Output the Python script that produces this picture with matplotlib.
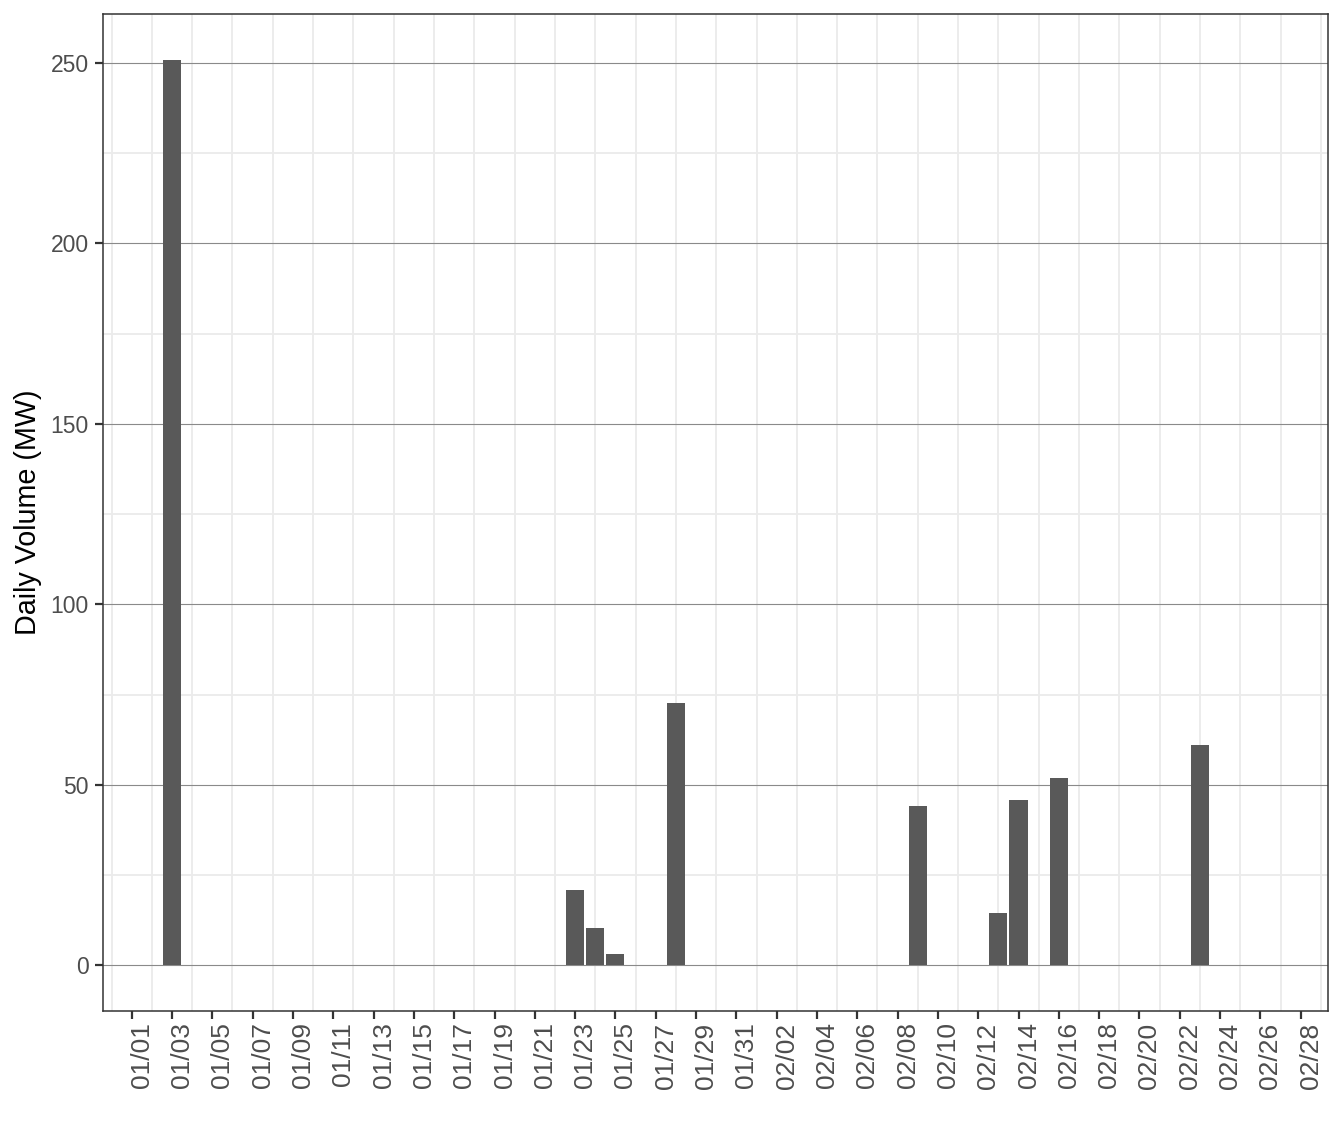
# Daily volume bar chart (Jan - Feb)
import numpy as np
import pandas as pd
import matplotlib
matplotlib.use('Agg')
import matplotlib.pyplot as plt
import matplotlib.dates as mdates
from matplotlib.transforms import ScaledTranslation

plt.rcParams['font.family'] = ['Liberation Sans', 'DejaVu Sans']

# Data (only days with a non-zero volume)
bar_dates = ['2021-01-03', '2021-01-23', '2021-01-24', '2021-01-25', '2021-01-28',
             '2021-02-09', '2021-02-13', '2021-02-14', '2021-02-16', '2021-02-23']
volumes = [250.9, 20.9, 10.4, 3.1, 72.6, 44.2, 14.5, 45.9, 51.8, 60.9]

tick_dates = pd.date_range('2021-01-01', '2021-02-28', freq='2D')
minor_dates = pd.date_range('2020-12-31', '2021-03-01', freq='2D')
y_major = [0, 50, 100, 150, 200, 250]
y_minor = [25, 75, 125, 175, 225]

W, H = 1344, 1142
fig = plt.figure(figsize=(W / 100, H / 100), dpi=100)
left, right, top, bottom = 103.3, 1328.3, 14.2, 1010.6
ax = fig.add_axes([left / W, 1 - bottom / H, (right - left) / W, (bottom - top) / H])

x = mdates.date2num(pd.to_datetime(bar_dates))
ax.bar(x, volumes, width=0.9, color='#595959', zorder=3)

# axes ranges
x0 = mdates.date2num(pd.Timestamp('2021-01-01'))
ax.set_xlim(x0 - 1.41, x0 + 59.37)
ax.set_ylim(-12.55, 263.5)

# ticks
ax.xaxis.set_major_locator(plt.FixedLocator(mdates.date2num(tick_dates)))
ax.xaxis.set_major_formatter(mdates.DateFormatter('%m/%d'))
ax.xaxis.set_minor_locator(plt.FixedLocator(mdates.date2num(minor_dates)))
ax.yaxis.set_major_locator(plt.FixedLocator(y_major))
ax.yaxis.set_minor_locator(plt.FixedLocator(y_minor))
ax.set_yticklabels([str(v) for v in y_major])

ax.tick_params(which='major', axis='both', color='#333333', width=1.6,
               length=5.5, labelcolor='#4D4D4D')
ax.tick_params(which='minor', axis='both', length=0)
ax.tick_params(axis='y', labelsize=16.5, pad=4.8)
ax.tick_params(axis='x', labelsize=19, pad=3, labelrotation=90)

offset = ScaledTranslation(10 / 100, 0, fig.dpi_scale_trans)
for lab in ax.get_xticklabels():
    lab.set_transform(lab.get_transform() + offset)

# grid
ax.grid(which='minor', axis='both', color='#EBEBEB', linewidth=1.3, zorder=0)
ax.grid(which='major', axis='y', color='#8A8A8A', linewidth=0.8, zorder=1)
ax.grid(which='major', axis='x', visible=False)
ax.set_axisbelow(True)

for s in ax.spines.values():
    s.set_color('#333333')
    s.set_linewidth(1.1)

fig.text(28.5 / W, 1 - 512.4 / H, 'Daily Volume (MW)', rotation=90,
         ha='center', va='center', fontsize=20.7, color='black')

fig.savefig('out.png', dpi=100)
